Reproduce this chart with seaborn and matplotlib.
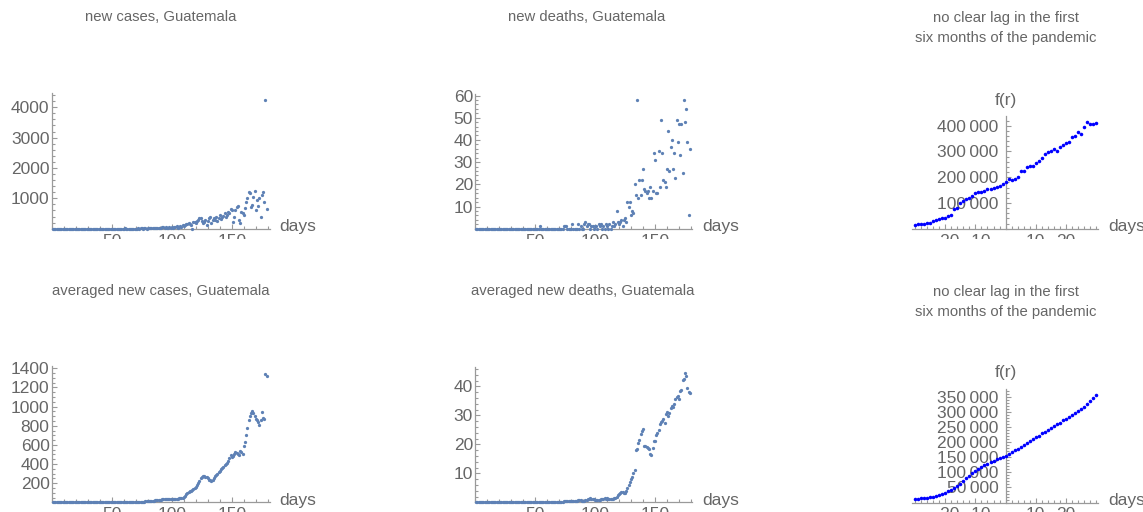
import numpy as np
import pandas as pd
import seaborn as sns
import matplotlib.pyplot as plt
from matplotlib.ticker import MultipleLocator
from matplotlib.transforms import Bbox, TransformedBbox

# daily new cases, Guatemala
new_cases = [
    0, 0, 0, 0, 0, 0, 0, 0, 0, 0, 0, 0, 0, 0, 0, 0, 0, 0, 0, 0,
    0, 0, 0, 0, 0, 0, 0, 0, 0, 0, 0, 0, 0, 0, 0, 0, 0, 0, 0, 0,
    0, 0, 0, 0, 0, 0, 0, 0, 0, 0, 0,
    1, 0, 0, 3, 2, 0, 1, 2, 1,
    7, 2, 2, 0, 4, 5, 3, 2, 6, 2,
    4, 11, 3, 10, 14, 6, 8, 9, 5, 12,
    14, 19, 7, 16, 22, 13, 25, 30, 18, 35,
    24, 43, 48, 21, 55, 38, 27, 44, 31, 59,
    25, 43, 62, 80, 33, 58, 90, 66, 124, 92,
    108, 166, 150, 185, 140, 120, -20, 210, 232, 180,
    258, 288, 342, 360, 250, 175, 220, 300, 136, 262,
    338, 375, 200, 280, 348, 300, 395, 270, 350, 450,
    330, 378, 410, 505, 380, 460, 560, 520, 637, 610,
    232, 380, 620, 725, 740, 290, 200, 560, 510, 465,
    670, 890, 1000, 1220, 1190, 720, 780, 1055, 1240, 630,
    950, 760, 1000, 395, 1110, 1210, 870, 4240, 637,
]

new_deaths = [
    0, 0, 0, 0, 0, 0, 0, 0, 0, 0, 0, 0, 0, 0, 0, 0, 0, 0, 0, 0,
    0, 0, 0, 0, 0, 0, 0, 0, 0, 0, 0, 0, 0, 0, 0, 0, 0, 0, 0, 0,
    0, 0, 0, 0, 0, 0, 0, 0, 0, 0, 0, 0, 0,
    1,
    0, 0, 0, 0, 0, 0, 0, 0, 0, 0, 0, 0, 0, 0, 0, 0, 0, 0, 0,
    1, 1, 1,
    0, 0, 0, 0,
    2, 0, 0, 0, 0, 2, 0, 1, 0, 0,
    2, 3, 1, 2, 2, 0, 1, 1, 0, 1,
    1, 0, 2, 1, 2, 0, 1, 0, 2, 1,
    0, 2, 0, 1, 3, 1, 2, 8, 3, 2,
    3, 4, 1, 4, 5, 3, 12, 10, 12, 6,
    8, 7, 20, 15, 58,
    14, 22, 15, 22, 27, 18, 17, 16, 17, 14,
    19, 14, 17, 34, 31, 16, 16, 35, 19, 49,
    34, 22, 21, 19, 27, 44, 26, 37, 40, 27,
    34, 23, 49, 39, 47, 33, 47, 25, 58, 48,
    54, 39, 6, 36,
]

avg_cases = [
    0, 0, 0, 0, 0, 0, 0, 0, 0, 0, 0, 0, 0, 0, 0, 0, 0, 0, 0, 0,
    0, 0, 0, 0, 0, 0, 0, 0, 0, 0, 0, 0, 0, 0, 0, 0, 0, 0, 0, 0,
    0, 0, 0, 0, 0, 0, 0, 0, 0, 0, 0, 0, 0, 0, 0,
    1, 1, 1, 1, 2, 2, 2, 2, 3, 3, 3, 3, 3, 4, 4,
    4, 5, 5, 6, 7, 8, 8, 9, 10, 11,
    12, 13, 14, 16, 17, 19, 20, 22, 24, 26,
    28, 30, 31, 33, 34, 35, 35, 34, 34, 35,
    34, 33, 34, 36, 38, 40, 42, 45, 48, 58,
    69, 85, 98, 108, 116, 120, 128, 140, 152, 165,
    180, 198, 218, 250, 264, 270, 272, 268, 262, 250,
    236, 228, 224, 236, 252, 270, 285, 300, 312, 322,
    344, 358, 372, 388, 400, 415, 432, 458, 492, 470,
    480, 508, 530, 520, 505, 495, 540, 530, 500, 585,
    625, 700, 775, 862, 905, 938, 950, 930, 905, 870,
    860, 835, 812, 860, 945, 880, 866, 1345, 1320,
]

avg_deaths = [
    0, 0, 0, 0, 0, 0, 0, 0, 0, 0, 0, 0, 0, 0, 0, 0, 0, 0, 0, 0,
    0, 0, 0, 0, 0, 0, 0, 0, 0, 0, 0, 0, 0, 0, 0, 0, 0, 0, 0, 0,
    0, 0, 0, 0, 0, 0, 0, 0, 0, 0, 0, 0, 0, 0, 0, 0, 0, 0, 0, 0,
    0.1, 0.1, 0.1, 0.1, 0.1, 0.1, 0.1, 0, 0, 0, 0.1, 0.1, 0.1,
    0.3, 0.4, 0.4, 0.4, 0.4, 0.4, 0.3, 0.4, 0.6, 0.6, 0.6,
    0.6, 0.9, 0.7, 0.7, 0.6, 0.6, 0.6, 0.9, 0.9, 1.1, 1.3,
    1.4, 1.3, 1.2, 1.1, 0.9, 0.9, 0.8, 0.8, 0.9, 1.0, 1.2,
    1.3, 1.4, 1.3, 1.4, 1.3, 1.3, 1.1, 1.1, 1.3, 1.4, 1.6,
    1.9, 2.5, 3.0, 3.3, 3.6, 3.7, 3.3, 3.2, 3.9, 5.0,
    6.0, 6.9, 8.0, 8.7, 10.2, 11.0, 18.0, 18.3, 20.4, 21.5,
    23.5, 24.6, 25.2, 19.6, 19.4, 19.1, 18.7, 18.3, 16.8, 16.4,
    18.7, 21.0, 21.3, 23.2, 24.0, 25.1, 27.0, 27.6, 28.2, 28.6,
    27.4, 30.5, 31.0, 29.8, 30.8, 32.4, 33.4, 33.0, 34.0, 35.7,
    36.2, 36.7, 35.8, 38.3, 38.8, 42.3, 42.5, 44.6, 43.5, 39.6, 37.9, 37.8,
]

# lag correlation f(r), r = -30..30
lags = list(range(-30, 31))
f_raw = [
    16, 17, 17, 19, 21, 24, 28, 33, 38, 42, 43, 48, 52, 78, 82, 100,
    107, 116, 121, 128, 137, 142, 144, 146, 153, 153, 160, 163, 166, 172,
    180, 192, 191, 194, 201, 224, 223, 238, 242, 245, 255, 264, 276, 289,
    296, 300, 311, 303, 316, 324, 333, 338, 355, 361, 374, 366, 396, 413,
    406, 408, 410,
]
f_avg = [
    13, 13, 14, 15, 16, 18, 20, 23, 26, 29, 33, 38, 43, 49, 56, 63,
    71, 80, 89, 98, 106, 112, 118, 124, 129, 134, 139, 143, 147, 151,
    155, 161, 167, 173, 179, 185, 191, 197, 204, 210, 216, 222, 229, 235,
    241, 247, 253, 259, 265, 272, 278, 284, 291, 297, 304, 311, 318, 326,
    336, 345, 355,
]

titles = ["new cases, Guatemala", "new deaths, Guatemala",
          "no clear lag in the first\nsix months of the pandemic",
          "averaged new cases, Guatemala", "averaged new deaths, Guatemala",
          "no clear lag in the first\nsix months of the pandemic"]

W, H = 1143, 512
sns.set_theme(style="white")
plt.rcParams["font.family"] = ["Liberation Sans", "DejaVu Sans"]
GRAY = "#9a9a9a"
TXT = "#666666"
DOT = "#5E81B5"

fig = plt.figure(figsize=(W / 100, H / 100), dpi=100)
fig.patch.set_facecolor("white")
row1_clip = TransformedBbox(Bbox([[0, (H - 238.5) / H], [1, 1]]), fig.transFigure)


def px_axes(x0, x1, ytop, ybot):
    return fig.add_axes([x0 / W, (H - ybot) / H, (x1 - x0) / W, (ybot - ytop) / H])


def style(ax, centered=False):
    for s in ["top", "right"]:
        ax.spines[s].set_visible(False)
    for s in ["left", "bottom"]:
        ax.spines[s].set_color(GRAY)
        ax.spines[s].set_linewidth(0.9)
    if centered:
        ax.spines["left"].set_position(("data", 0))
    ax.set_facecolor("none")
    ax.tick_params(which="both", direction="in", color=GRAY, labelcolor=TXT,
                   labelsize=12.5, width=0.8, bottom=True, left=True,
                   top=False, right=False)
    ax.tick_params(which="major", length=3.5)
    ax.tick_params(which="minor", length=2)
    ax.tick_params(axis="y", pad=5 if centered else 1.5)
    ax.tick_params(axis="x", pad=3.5)
    ax.set_xlabel("")
    ax.set_ylabel("")


def dots(ax, x, y, color, size):
    df = pd.DataFrame({"x": x, "y": y})
    sns.scatterplot(data=df, x="x", y="y", ax=ax, color=color, s=size,
                    linewidth=0, legend=False)
    ax.collections[-1].set_clip_on(False)
    ax.collections[-1].set_zorder(3)


def day_panel(x0, x1, ytop, ybot, values, ymax, yticks, yminor, xmax):
    ax = px_axes(x0, x1, ytop, ybot)
    dots(ax, np.arange(1, len(values) + 1), values, DOT, 5.5)
    ax.set_xlim(0, xmax)
    ax.set_ylim(0, ymax)
    ax.set_xticks([50, 100, 150])
    ax.xaxis.set_minor_locator(MultipleLocator(10))
    ax.set_yticks(yticks)
    ax.yaxis.set_minor_locator(MultipleLocator(yminor))
    style(ax)
    return ax


def lag_panel(x0, x1, ytop, ybot, values, ymax, yticks, yminor):
    ax = px_axes(x0, x1, ytop, ybot)
    dots(ax, lags, values, "#0000FF", 6.5)
    ax.set_xlim(-31.1, 30.7)
    ax.set_ylim(0, ymax)
    ax.set_xticks([-20, -10, 10, 20])
    ax.xaxis.set_minor_locator(MultipleLocator(2))
    ax.set_yticks(yticks)
    ax.set_yticklabels([f"{int(v / 1000)}\u2009000" for v in yticks])
    ax.yaxis.set_minor_locator(MultipleLocator(yminor))
    style(ax, centered=True)
    return ax


a1 = day_panel(51.7, 270, 93.3, 228.7, new_cases, 4460,
               [1000, 2000, 3000, 4000], 200, 181.9)
a2 = day_panel(475, 692, 94, 228.7, new_deaths, 60.7,
               [10, 20, 30, 40, 50, 60], 2, 180.8)
a3 = lag_panel(911.7, 1098.3, 116, 228.7, [v * 1000 for v in f_raw], 437700,
               [100000, 200000, 300000, 400000], 20000)
a4 = day_panel(51.7, 270, 366, 502.3, avg_cases, 1424,
               [200, 400, 600, 800, 1000, 1200, 1400], 50, 181.9)
a5 = day_panel(475, 692, 366.7, 502.3, avg_deaths, 46.8,
               [10, 20, 30, 40], 2, 180.8)
a6 = lag_panel(911.7, 1098.3, 389, 502.6, [v * 1000 for v in f_avg], 376000,
               [50000, 100000, 150000, 200000, 250000, 300000, 350000], 10000)

# top row tick labels are cut off by the next row
for ax in (a1, a2, a3):
    for lbl in ax.get_xticklabels():
        lbl.set_clip_box(row1_clip)
        lbl.set_clip_on(True)


def ftext(x, y, s, **kw):
    fig.text(x / W, 1 - y / H, s, **kw)


title_pos = [(161, 17), (587, 17), (1006, 28), (161, 291), (583, 291), (1006, 302)]
for (tx, ty), t in zip(title_pos, titles):
    ftext(tx, ty, t, ha="center", va="center", fontsize=10.7, color="#666666",
          linespacing=1.6)

for dx, dy in [(279, 226.5), (702.7, 226.5), (1108, 226.5),
               (279, 500.5), (702.7, 500.5), (1108, 500.5)]:
    ftext(dx, dy, "days", ha="left", va="center", fontsize=12.5, color=TXT)

ftext(1005.7, 100, "f(r)", ha="center", va="center", fontsize=12.5, color=TXT)
ftext(1005.7, 373, "f(r)", ha="center", va="center", fontsize=12.5, color=TXT)

fig.savefig("out.png", dpi=100)
